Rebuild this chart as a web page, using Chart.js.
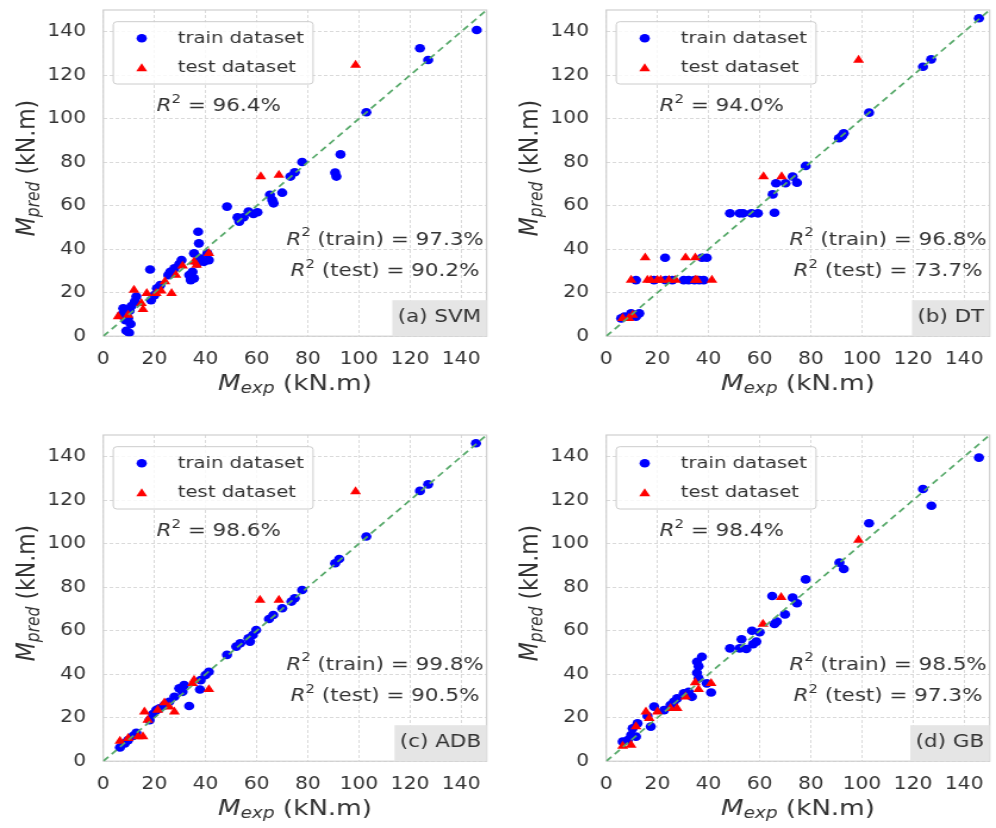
<!DOCTYPE html>
<html>
<head>
<meta charset="utf-8">
<script src="https://cdn.jsdelivr.net/npm/chart.js@4.4.1/dist/chart.umd.min.js"></script>
<style>
  body { margin: 0; background: #fff; overflow: hidden; width: 996px; height: 828px; position: relative; }
  canvas { position: absolute; }
</style>
</head>
<body>
<canvas id="svm" width="414" height="425" style="left:0px;top:0px;width:493px;height:425px"></canvas>
<canvas id="dt" width="414" height="425" style="left:503.4px;top:0px;width:493px;height:425px"></canvas>
<canvas id="adb" width="414" height="425" style="left:0px;top:425px;width:493px;height:425px"></canvas>
<canvas id="gb" width="414" height="425" style="left:503.4px;top:425px;width:493px;height:425px"></canvas>
<script>
// axis range + ticks
var diagonal = [0, 150];
var tickStep = 20;

// panel texts
var panelNames = ["(a) SVM", "(b) DT", "(c) ADB", "(d) GB"];
var r2All = ["96.4%", "94.0%", "98.6%", "98.4%"];
var r2Train = ["97.3%", "96.8%", "99.8%", "98.5%"];
var r2Test = ["90.2%", "73.7%", "90.5%", "97.3%"];
var seriesNames = ["train dataset", "test dataset"];

// (a) SVM
var svmTrainX = [146.1, 123.9, 127.1, 102.9, 92.8, 90.7, 91.2, 77.8, 74.9, 73.2, 70, 65.2, 66.1, 66.6, 48.4, 52.5, 53.2, 56.8, 58.7, 60.3, 54.9,
  37.1, 37.4, 35.5, 37.8, 40.7, 41.3, 39.4, 36.8, 34.9, 34.2, 35.5, 33.6, 30.6, 29.7, 27.8, 26.2, 25.4, 18.3, 22.3, 21, 20, 18.7,
  12.9, 12.3, 11, 10.3, 7.8, 7.1, 9.7, 8.7, 9, 10.1, 10.7];
var svmTrainY = [140.8, 132.4, 127, 103, 83.6, 75.2, 73.4, 80.1, 75.4, 73.4, 66, 65, 62.6, 61.1, 59.6, 54.7, 52.7, 57.3, 56.2, 57, 54.7,
  48, 42.7, 38.1, 35.8, 38.1, 35, 34.2, 33.5, 29.6, 25.8, 26.6, 28.1, 35, 33.2, 31.2, 29.6, 28.1, 30.7, 23.5, 22, 18.9, 16.6,
  18.2, 15.9, 13.9, 11.7, 12.8, 9.7, 8.2, 7.4, 2.5, 1.6, 5.6];
var svmTestX = [98.7, 61.6, 68.7, 12, 5.8, 9.7, 15.5, 14.9, 17, 20.7, 22.6, 26.7, 24.1, 28.4, 31, 35.5, 36.5, 41.3];
var svmTestY = [124.7, 73.4, 74.1, 21.2, 9, 9.7, 12.3, 15.1, 19.7, 19.7, 20.9, 19.7, 25.1, 28.1, 32.3, 34.2, 32.7, 38.1];

// (b) DT
var dtTrainX = [145.8, 123.9, 127.1, 102.8, 91, 92.2, 92.9, 78, 72.9, 74.6, 70.1, 66.4, 65.1, 65.8, 48.4, 52.2, 53.5, 56.8, 59.3,
  23, 37.4, 39.3, 11.6, 18.7, 23.2, 25.8, 30.3, 32.2, 34.5, 36.4, 38.1, 5.8, 7.1, 9.7, 11.6, 12.9];
var dtTrainY = [146.2, 123.9, 127.3, 102.8, 91, 92.1, 93.3, 78.3, 73.4, 70.6, 70.3, 70.3, 65.2, 56.8, 56.5, 56.5, 56.5, 56.5, 56.5,
  36.1, 36.1, 36.1, 25.8, 25.8, 25.8, 25.8, 25.8, 25.8, 25.8, 25.8, 25.8, 8.2, 9, 10.5, 9, 10.5];
var dtTestX = [98.7, 61.5, 68.6, 15.2, 31, 34.8, 9.7, 16.1, 17.4, 20, 21.3, 24.5, 27.1, 34.8, 35.5, 41.3, 6.4, 8.8, 10.3];
var dtTestY = [127, 73.4, 73.4, 36.1, 36.1, 36.1, 25.8, 25.8, 25.8, 25.8, 25.8, 25.8, 25.8, 25.8, 25.8, 25.8, 8.2, 8.2, 9.7];

// (c) ADB
var adbTrainX = [145.8, 123.9, 127.1, 102.9, 90.7, 92.3, 77.8, 74.9, 73.6, 70, 66.5, 64.8, 59.8, 58.5, 56.8, 57.4, 53.6, 52, 48.4,
  41.3, 40, 38.1, 37.8, 33.6, 31.6, 29.7, 31, 27.8, 25.8, 23.9, 20.7, 19.4, 18.1, 12.9, 11.6, 9.7, 8.4, 6.5, 22];
var adbTrainY = [146.2, 124.3, 127.3, 103.3, 91, 93, 78.7, 74.9, 73.4, 70.3, 67.2, 65.4, 60.3, 58, 56.5, 55, 54.2, 52.7, 48.9,
  41.1, 39.6, 37.3, 33, 25.4, 35, 33.5, 31.9, 29.6, 27.3, 25.8, 23.5, 21.7, 18.9, 13.1, 11.6, 9.7, 8.2, 6.3, 24.3];
var adbTestX = [98.7, 61.3, 68.7, 41.3, 35.5, 34.9, 27.8, 25.8, 23.9, 21.3, 16.1, 17.4, 6.5, 9.7, 15.5, 13.6];
var adbTestY = [124, 74.1, 74.1, 33, 37.3, 35.8, 22.7, 25, 26.9, 23.5, 22.7, 18.9, 9.3, 10.5, 11.3, 11.3];

// (d) GB
var gbTrainX = [145.8, 123.9, 127.2, 102.8, 91.2, 92.9, 78, 64.9, 72.9, 74.6, 69.9, 66.7, 65.8, 57, 60, 52.9, 58.7, 57.4, 54.8, 52.2, 48.4,
  37.4, 35.5, 36.1, 35.5, 36.1, 39.3, 41, 33.5, 32.2, 30.3, 27.7, 26.4, 25.1, 22.6, 18.7, 17.4, 12.2, 10.3, 11.6, 8.4, 6.4, 9.7, 16.1];
var gbTrainY = [139.6, 125.2, 117.5, 109.4, 91.3, 88.4, 83.6, 76, 75.2, 72.6, 67.5, 64.2, 63.1, 60, 59.3, 56.1, 55, 53.8, 51.6, 51.9, 51.9,
  48, 45.7, 43.7, 40.7, 38.1, 35.8, 31.6, 29.6, 31.9, 31.2, 28.9, 27.3, 25.8, 23.5, 25.1, 15.9, 17.4, 15.1, 11.3, 9.7, 9, 12, 20.8];
var gbTestX = [98.7, 68.4, 61.3, 41, 34.8, 36.1, 31, 27.7, 25.1, 20, 15.5, 16.8, 11.6, 6.4, 9.7];
var gbTestY = [101.7, 75.4, 63.1, 35.8, 36.2, 33, 29.6, 24.3, 24.3, 22.7, 22.7, 19.7, 15.9, 7, 7.4];

var FONT = '"DejaVu Sans"';
var TEXT = '#333333';
Chart.defaults.font.family = 'DejaVu Sans';

function pts(xs, ys) {
  return xs.map(function (x, i) { return { x: x, y: ys[i] }; });
}

// draws a run of text pieces (italic / sub / superscript)
function richWidth(ctx, parts) {
  var w = 0;
  parts.forEach(function (p) {
    ctx.font = (p.italic ? 'italic ' : '') + p.size + 'px ' + FONT;
    w += ctx.measureText(p.t).width;
  });
  return w;
}
function drawRich(ctx, parts, x, y) {
  parts.forEach(function (p) {
    ctx.font = (p.italic ? 'italic ' : '') + p.size + 'px ' + FONT;
    ctx.fillText(p.t, x, y + (p.dy || 0));
    x += ctx.measureText(p.t).width;
  });
}

function triangle(ctx, x, y, r) {
  ctx.beginPath();
  ctx.moveTo(x, y - r);
  ctx.lineTo(x + Math.sin(2 * Math.PI / 3) * r, y + r / 2);
  ctx.lineTo(x - Math.sin(2 * Math.PI / 3) * r, y + r / 2);
  ctx.closePath();
  ctx.fill();
}

var frame = {
  id: 'frame',
  beforeDatasetsDraw: function (chart) {
    var a = chart.chartArea, ctx = chart.ctx;
    ctx.save();
    ctx.strokeStyle = '#cfcfcf';
    ctx.lineWidth = 1.2;
    ctx.strokeRect(a.left, a.top, a.right - a.left, a.bottom - a.top);
    ctx.restore();
  }
};

var decor = {
  id: 'decor',
  afterDraw: function (chart) {
    var ctx = chart.ctx, a = chart.chartArea, k = chart.options.plugins.decor.k;
    ctx.save();
    ctx.fillStyle = TEXT;
    ctx.textBaseline = 'middle';

    // legend
    ctx.fillStyle = 'rgba(255,255,255,0.8)';
    ctx.strokeStyle = '#cccccc';
    ctx.lineWidth = 1;
    ctx.beginPath();
    ctx.roundRect(95.1, 21.7, 167.8, 62.3, 3);
    ctx.fill();
    ctx.stroke();
    ctx.fillStyle = '#0000ff';
    ctx.beginPath();
    ctx.arc(119, 38.3, 4.3, 0, Math.PI * 2);
    ctx.fill();
    ctx.fillStyle = '#ff0000';
    triangle(ctx, 119, 68.5, 5.3);
    ctx.fillStyle = TEXT;
    ctx.font = '16.5px ' + FONT;
    ctx.fillText(seriesNames[0], 149.2, 38.3);
    ctx.fillText(seriesNames[1], 149.2, 67.3);

    // R2 texts
    drawRich(ctx, [{ t: 'R', size: 18, italic: true }, { t: '2', size: 12.5, dy: -7 }, { t: ' = ' + r2All[k], size: 18 }], 131.6, 106.7);
    var p1 = [{ t: 'R', size: 18, italic: true }, { t: '2', size: 12.5, dy: -7 }, { t: ' (train) = ' + r2Train[k], size: 18 }];
    var p2 = [{ t: 'R', size: 18, italic: true }, { t: '2', size: 12.5, dy: -7 }, { t: ' (test) = ' + r2Test[k], size: 18 }];
    drawRich(ctx, p1, 323.3 - richWidth(ctx, p1) / 2, 240);
    drawRich(ctx, p2, 323.3 - richWidth(ctx, p2) / 2, 271.7);

    // panel label box
    ctx.font = '18px ' + FONT;
    var tw = ctx.measureText(panelNames[k]).width;
    var tx = 404 - tw;
    ctx.fillStyle = '#e5e5e5';
    ctx.fillRect(tx - 4.5, a.bottom - 36, a.right - tx + 4.5, 36);
    ctx.fillStyle = TEXT;
    ctx.fillText(panelNames[k], tx, a.bottom - 18.5);

    // axis titles
    var xt = [{ t: 'M', size: 22, italic: true }, { t: 'exp', size: 15.5, italic: true, dy: 5 }, { t: ' (kN.m)', size: 22 }];
    drawRich(ctx, xt, (a.left + a.right) / 2 - richWidth(ctx, xt) / 2, 384);
    var yt = [{ t: 'M', size: 22, italic: true }, { t: 'pred', size: 15.5, italic: true, dy: 5 }, { t: ' (kN.m)', size: 22 }];
    ctx.translate(23.5, 168);
    ctx.rotate(-Math.PI / 2);
    drawRich(ctx, yt, -richWidth(ctx, yt) / 2, 0);
    ctx.restore();
  }
};

function scaleOpts(axis) {
  return {
    type: 'linear',
    min: diagonal[0],
    max: diagonal[1],
    ticks: {
      stepSize: tickStep,
      includeBounds: false,
      padding: axis === 'x' ? 13.5 : 14.5,
      color: TEXT,
      font: { family: 'DejaVu Sans', size: 17 }
    },
    grid: { color: '#dadada', lineWidth: 1, drawTicks: false },
    border: { display: false, dash: [3, 2] },
    afterFit: function (s) {
      if (axis === 'x') s.height = 88.8;
      else s.width = 86.75;
      s.paddingTop = 0; s.paddingBottom = 0; s.paddingLeft = 0; s.paddingRight = 0;
    }
  };
}

function makeChart(id, k, trainX, trainY, testX, testY) {
  new Chart(document.getElementById(id), {
    type: 'scatter',
    data: {
      datasets: [
        {
          type: 'line',
          label: 'y = x',
          data: pts(diagonal, diagonal),
          borderColor: '#55a868',
          borderWidth: 1.7,
          borderDash: [6, 4],
          pointRadius: 0,
          fill: false,
          order: 0
        },
        {
          label: seriesNames[1],
          data: pts(testX, testY),
          pointStyle: 'triangle',
          pointRadius: 5.3,
          pointHoverRadius: 5.3,
          backgroundColor: '#ff0000',
          borderWidth: 0,
          order: 1
        },
        {
          label: seriesNames[0],
          data: pts(trainX, trainY),
          pointStyle: 'circle',
          pointRadius: 4.3,
          pointHoverRadius: 4.3,
          backgroundColor: '#0000ff',
          borderWidth: 0,
          order: 2
        }
      ]
    },
    options: {
      responsive: false,
      animation: false,
      layout: { padding: { left: 0, right: 1.8, top: 10, bottom: 0 } },
      scales: { x: scaleOpts('x'), y: scaleOpts('y') },
      plugins: {
        legend: { display: false },
        tooltip: { enabled: false },
        decor: { k: k }
      }
    },
    plugins: [frame, decor]
  });
}

makeChart('svm', 0, svmTrainX, svmTrainY, svmTestX, svmTestY);
makeChart('dt', 1, dtTrainX, dtTrainY, dtTestX, dtTestY);
makeChart('adb', 2, adbTrainX, adbTrainY, adbTestX, adbTestY);
makeChart('gb', 3, gbTrainX, gbTrainY, gbTestX, gbTestY);
</script>
</body>
</html>
